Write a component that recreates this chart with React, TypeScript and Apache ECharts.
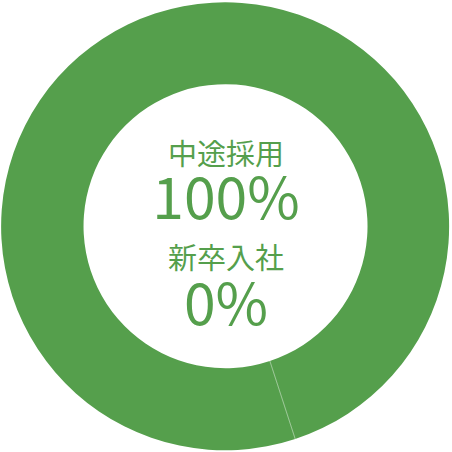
import React, { useEffect, useRef } from 'react';
import * as echarts from 'echarts';

const categories = ['中途採用', '新卒入社'];
const values = [100, 0];
const colors = ['#559f4c', '#559f4c'];

const App: React.FC = () => {
    const chartRef = useRef<HTMLDivElement | null>(null);

    useEffect(() => {
        if (!chartRef.current) return;

        const myChart = echarts.init(chartRef.current, null, { renderer: 'svg' });

        const total = values.reduce((a, b) => a + b, 0);
        const pct = values.map(v => Math.round((v / total) * 100) + '%');
        const green = colors[0];
        const font = '"Noto Sans CJK JP", "Noto Sans", sans-serif';

        // center labels, tight line height so the boxes don't overlap
        const label = (text: string, y: number, size: number) => ({
            type: 'text', x: 226, y,
            style: {
                text, fill: green, font: `${size}px ${font}`, lineHeight: Math.round(size * 0.8),
                textAlign: 'center', textVerticalAlign: 'middle'
            }
        });

        const option = {
            animation: false,
            backgroundColor: '#ffffff',
            series: [
                {
                    name: 'recruit',
                    type: 'pie',
                    center: ['50%', '50%'],
                    radius: [142, 224],
                    startAngle: -72,
                    clockwise: true,
                    avoidLabelOverlap: false,
                    label: { show: false },
                    labelLine: { show: false },
                    emphasis: { disabled: true },
                    data: categories.map((name, i) => ({
                        name,
                        value: values[i],
                        itemStyle: {
                            color: colors[i],
                            borderColor: values[i] === 0 ? 'rgba(255,255,255,0.3)' : 'transparent',
                            borderWidth: values[i] === 0 ? 0.8 : 0
                        }
                    }))
                }
            ],
            graphic: [
                label(categories[0], 152, 29),
                label(pct[0], 194, 57),
                label(categories[1], 256, 29),
                label(pct[1], 300, 57)
            ]
        };

        myChart.setOption(option);

        return () => {
            myChart.dispose();
        };
    }, []);

    return (
        <div
            ref={chartRef}
            style={{ position: 'fixed', left: 0, top: 0, width: '452px', height: '452px' }}
        />
    );
};

export default App;
